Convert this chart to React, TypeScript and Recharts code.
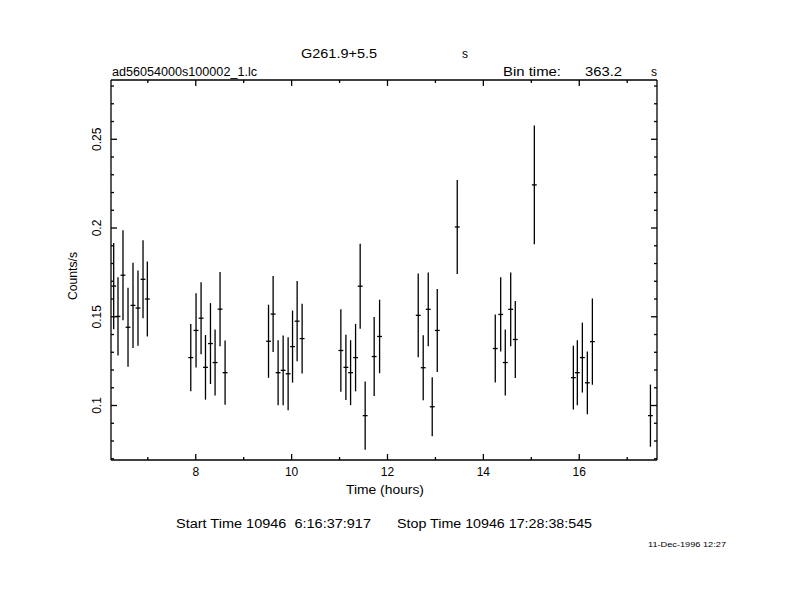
import React from 'react';
import { ComposedChart, Scatter, XAxis, YAxis, ErrorBar } from 'recharts';

// Light curve bins: time (hours), rate (counts/s), 1-sigma error
const times = [
  6.288, 6.378, 6.482, 6.587, 6.691, 6.795, 6.9, 6.99,
  7.896, 8.006, 8.111, 8.203, 8.307, 8.403, 8.507, 8.612,
  9.518, 9.614, 9.718, 9.823, 9.927, 10.019, 10.115, 10.219,
  11.027, 11.132, 11.23, 11.334, 11.43, 11.534, 11.722, 11.835,
  12.641, 12.745, 12.85, 12.933, 13.038, 13.455,
  14.248, 14.361, 14.457, 14.57, 14.666, 15.063,
  15.877, 15.96, 16.065, 16.169, 16.274, 17.485,
];
const rates = [
  0.1673, 0.1502, 0.1734, 0.1441, 0.1564, 0.1549, 0.1711, 0.16,
  0.127, 0.1423, 0.1492, 0.1215, 0.1349, 0.1242, 0.1543, 0.1185,
  0.1362, 0.1515, 0.1185, 0.1198, 0.1179, 0.1332, 0.1475, 0.1377,
  0.131, 0.1215, 0.1185, 0.127, 0.1672, 0.0943, 0.1276, 0.1389,
  0.1508, 0.1213, 0.1542, 0.0993, 0.1423, 0.2006,
  0.1321, 0.1513, 0.1242, 0.1542, 0.1372, 0.2243,
  0.1157, 0.1185, 0.127, 0.1128, 0.136, 0.0943,
];
const errors = [
  0.0243, 0.022, 0.0254, 0.0222, 0.024, 0.0212, 0.022, 0.0211,
  0.0189, 0.0209, 0.0203, 0.0182, 0.0228, 0.0186, 0.0209, 0.0181,
  0.0206, 0.0214, 0.0183, 0.0197, 0.0206, 0.0203, 0.0226, 0.0197,
  0.0232, 0.0184, 0.0183, 0.019, 0.024, 0.0192, 0.0223, 0.0207,
  0.0236, 0.0183, 0.0208, 0.0166, 0.0234, 0.0265,
  0.0192, 0.0209, 0.0186, 0.0208, 0.0217, 0.0334,
  0.018, 0.0183, 0.0197, 0.0177, 0.0243, 0.0175,
];
const BIN_TIME_S = 363.2;

const xTicks = [7, 8, 9, 10, 11, 12, 13, 14, 15, 16, 17];
const xMajorTicks = [8, 10, 12, 14, 16];
const yTicks = [
  0.07, 0.08, 0.09, 0.1, 0.11, 0.12, 0.13, 0.14, 0.15, 0.16, 0.17,
  0.18, 0.19, 0.2, 0.21, 0.22, 0.23, 0.24, 0.25, 0.26, 0.27, 0.28,
];
const yMajorTicks = [0.1, 0.15, 0.2, 0.25];
const xDomain = [6.232, 17.622];
const yDomain = [0.0693, 0.2834];

const data = times.map((t, i) => ({
  t,
  rate: rates[i],
  err: errors[i],
  xerr: BIN_TIME_S / 3600 / 2,
}));

const FONT = "'Liberation Sans', Arial, sans-serif";
const isMajor = (v: number, list: number[]) => list.some((m) => Math.abs(m - v) < 1e-6);
const MAJ = 6;
const MIN = 3;
const SW = 1.3;

const LeftTick = (props: any) => {
  const { x, y, payload } = props;
  const major = isMajor(payload.value, yMajorTicks);
  const lx = x - 14;
  return (
    <g>
      <line x1={x} y1={y} x2={x + (major ? MAJ : MIN)} y2={y} stroke="#000" strokeWidth={SW} />
      {major && (
        <text
          x={lx}
          y={y}
          transform={`rotate(-90 ${lx} ${y})`}
          textAnchor="middle"
          dominantBaseline="central"
          fontFamily={FONT}
          fontSize={12}
          fill="#000"
        >
          {String(payload.value)}
        </text>
      )}
    </g>
  );
};

const RightTick = (props: any) => {
  const { x, y, payload } = props;
  const major = isMajor(payload.value, yMajorTicks);
  return <line x1={x} y1={y} x2={x - (major ? MAJ : MIN)} y2={y} stroke="#000" strokeWidth={SW} />;
};

const BottomTick = (props: any) => {
  const { x, y, payload } = props;
  const major = isMajor(payload.value, xMajorTicks);
  return (
    <g>
      <line x1={x} y1={y} x2={x} y2={y - (major ? MAJ : MIN)} stroke="#000" strokeWidth={SW} />
      {major && (
        <text
          x={x}
          y={y + 12}
          textAnchor="middle"
          dominantBaseline="central"
          fontFamily={FONT}
          fontSize={12}
          fill="#000"
        >
          {String(payload.value)}
        </text>
      )}
    </g>
  );
};

const TopTick = (props: any) => {
  const { x, y, payload } = props;
  const major = isMajor(payload.value, xMajorTicks);
  return <line x1={x} y1={y} x2={x} y2={y + (major ? MAJ : MIN)} stroke="#000" strokeWidth={SW} />;
};

const NoShape = () => <g />;

export default function App() {
  const axisLine = { stroke: '#000', strokeWidth: SW };
  return (
    <div style={{ position: 'relative', width: 774, height: 580, background: '#fff' }}>
      <ComposedChart
        width={774}
        height={580}
        data={data}
        margin={{ top: 52, left: 63, right: 105, bottom: 98 }}
      >
        <XAxis
          xAxisId="b"
          dataKey="t"
          type="number"
          domain={xDomain}
          allowDataOverflow
          ticks={xTicks}
          interval={0}
          height={30}
          tickSize={0}
          tickMargin={0}
          tickLine={false}
          axisLine={axisLine}
          tick={BottomTick}
        />
        <XAxis
          xAxisId="top"
          orientation="top"
          dataKey="t"
          type="number"
          domain={xDomain}
          allowDataOverflow
          ticks={xTicks}
          interval={0}
          height={20}
          tickSize={0}
          tickMargin={0}
          tickLine={false}
          axisLine={axisLine}
          tick={TopTick}
        />
        <YAxis
          yAxisId="l"
          type="number"
          domain={yDomain}
          allowDataOverflow
          ticks={yTicks}
          interval={0}
          width={40}
          tickSize={0}
          tickMargin={0}
          tickLine={false}
          axisLine={axisLine}
          tick={LeftTick}
        />
        <YAxis
          yAxisId="r"
          orientation="right"
          type="number"
          domain={yDomain}
          allowDataOverflow
          ticks={yTicks}
          interval={0}
          width={20}
          tickSize={0}
          tickMargin={0}
          tickLine={false}
          axisLine={axisLine}
          tick={RightTick}
        />
        <Scatter
          xAxisId="b"
          yAxisId="l"
          dataKey="rate"
          fill="#000"
          shape={NoShape}
          isAnimationActive={false}
        >
          <ErrorBar dataKey="err" direction="y" width={0} stroke="#000" strokeWidth={SW} />
          <ErrorBar dataKey="xerr" direction="x" width={0} stroke="#000" strokeWidth={SW} />
        </Scatter>
      </ComposedChart>
      <svg
        width={790}
        height={596}
        style={{ position: 'absolute', left: -8, top: -8, pointerEvents: 'none', whiteSpace: 'pre' }}
        fontFamily={FONT}
        fill="#000"
      >
        <line x1={0.5} y1={0} x2={0.5} y2={596} stroke="#000" strokeWidth={1} />
        <text x={301} y={58} fontSize={12} textLength={76} lengthAdjust="spacingAndGlyphs">G261.9+5.5</text>
        <text x={462} y={58} fontSize={12}>s</text>
        <text x={112} y={76} fontSize={12} textLength={145} lengthAdjust="spacingAndGlyphs">ad56054000s100002_1.lc</text>
        <text x={503} y={76} fontSize={12} textLength={58} lengthAdjust="spacingAndGlyphs">Bin time:</text>
        <text x={585} y={76} fontSize={12} textLength={37} lengthAdjust="spacingAndGlyphs">363.2</text>
        <text x={651} y={76} fontSize={12}>s</text>
        <text x={346} y={494} fontSize={12} textLength={78} lengthAdjust="spacingAndGlyphs">Time (hours)</text>
        <text
          x={73}
          y={276}
          fontSize={12}
          textAnchor="middle"
          dominantBaseline="central"
          transform="rotate(-90 73 276)"
          textLength={48}
          lengthAdjust="spacingAndGlyphs"
        >
          Counts/s
        </text>
        <text x={176} y={528} fontSize={12} textLength={195} lengthAdjust="spacingAndGlyphs" xmlSpace="preserve">{'Start Time 10946  6:16:37:917'}</text>
        <text x={397} y={528} fontSize={12} textLength={195} lengthAdjust="spacingAndGlyphs">Stop Time 10946 17:28:38:545</text>
        <text x={648} y={547} fontSize={8} textLength={78} lengthAdjust="spacingAndGlyphs">11-Dec-1996 12:27</text>
      </svg>
    </div>
  );
}
